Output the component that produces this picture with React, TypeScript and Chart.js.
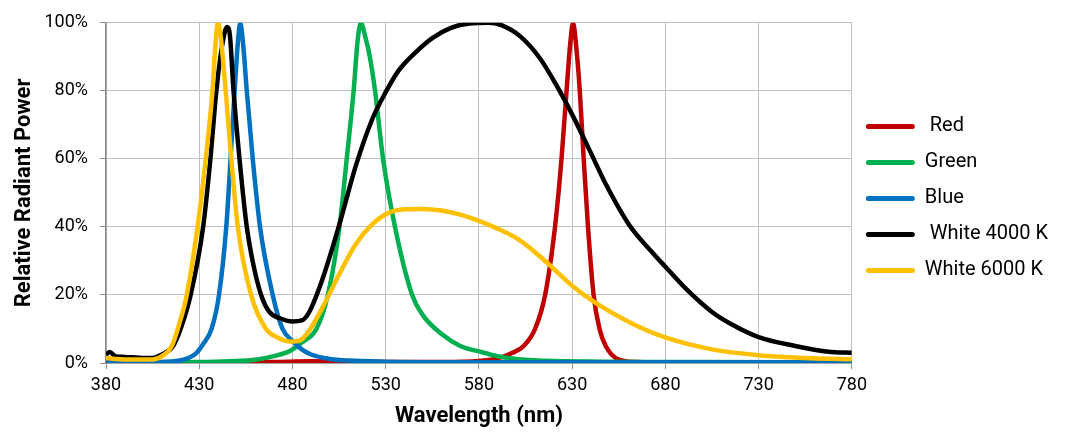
import { useEffect, useRef } from 'react';
import { Chart, registerables } from 'chart.js';

Chart.register(...registerables);

// Axis ticks
const xTicks = [380, 430, 480, 530, 580, 630, 680, 730, 780];
const yTicks = [0, 20, 40, 60, 80, 100];

// Series labels and colours
const seriesLabels = [' Red', 'Green', 'Blue', ' White 4000 K', 'White 6000 K'];
const seriesColors = ['#C00000', '#00B050', '#0070C0', '#000000', '#FFC000'];

// Red LED
const redNm = [380, 470, 490, 520, 560, 580, 591, 598, 604, 610.1, 615.5, 620.8, 624.3, 627, 629, 630.5, 632, 634.1, 636.2, 638.5, 641.5, 644.7, 648, 655, 665, 680, 780];
const redPct = [0, 0.3, 0.5, 0.3, 0.3, 0.6, 1.5, 3, 5, 10, 20, 40, 60, 80, 94, 100, 94, 80, 60, 40, 20, 10, 5, 1, 0.3, 0.2, 0.2];

// Green LED
const greenNm = [380, 430, 461, 470, 478.6, 485, 492.8, 499, 505.2, 509.1, 512.8, 515, 516.7, 519, 521.5, 524.3, 528.6, 535, 544.2, 550, 560, 570, 580, 590, 600, 620, 700, 780];
const greenPct = [0.2, 0.3, 1, 2, 3.5, 6, 10, 20, 40, 60, 80, 95, 100, 96, 90, 80, 60, 40, 20, 14, 8.5, 5, 3.4, 2, 1.2, 0.6, 0.3, 0.2];

// Blue LED
const blueNm = [380, 400, 410, 421.5, 428.6, 432, 436.6, 440.6, 444.5, 446.8, 449, 450.7, 452, 453.5, 455.5, 458.7, 462.6, 469.4, 474.7, 480, 485, 490, 500, 510, 530, 600, 780];
const bluePct = [0.2, 0.2, 0.3, 1, 3, 5.5, 10, 20, 40, 60, 80, 94, 100, 94, 80, 60, 40, 20, 10, 6.5, 4, 2.5, 1.2, 0.7, 0.4, 0.2, 0.2];

// White 4000 K
const w4000Nm = [380, 382, 385, 390, 400, 405, 410, 416, 420, 425.4, 432.1, 436, 439.2, 442.5, 444.9, 446.5, 448.4, 451.6, 455.5, 459, 463.2, 467.6, 474, 480, 485, 489, 496.3, 505.2, 514, 522.9, 530, 537, 546.8, 555, 565, 575, 585, 592, 602.2, 612.8, 621.7, 630.5, 639.4, 648.3, 660.7, 673, 680, 690.7, 705, 715.7, 730, 749.6, 767.5, 780];
const w4000Pct = [2.5, 3.2, 2, 1.8, 1.5, 1.5, 2.5, 5, 10, 20, 40, 60, 80, 94, 98.8, 96, 80, 60, 40, 29, 20, 15, 13, 12.2, 12.5, 15, 25, 40.8, 58, 71.8, 79.6, 86, 91.7, 95.5, 98.5, 99.8, 100, 99.3, 96, 89.5, 81.5, 72.5, 62.5, 52.3, 40.5, 32.5, 28.3, 22, 15, 11.3, 7.6, 5, 3.3, 3];

// White 6000 K
const w6000Nm = [380, 385, 395, 405, 410, 415.3, 419, 423.3, 429.1, 433.5, 437.1, 439, 440.1, 441.5, 444.2, 447.2, 450.7, 457.8, 465.8, 472, 478.6, 483.9, 489.2, 496.3, 505.2, 514, 522.9, 531.8, 540, 550, 560, 570, 580, 590, 602.2, 615.5, 630.5, 643, 660.7, 680, 705, 730, 758, 780];
const w6000Pct = [1.5, 1.2, 1, 1, 2, 5, 11, 20, 40, 60, 80, 96, 100, 96, 80, 60, 40, 20, 10, 7.5, 6.3, 6.6, 9.7, 16.5, 26.2, 35, 40.8, 44.2, 45.2, 45.3, 44.8, 43.6, 41.8, 39.5, 36, 30, 22.5, 17.5, 12, 7.5, 4, 2.3, 1.4, 1.1];

const FONT = 'Roboto';

export default function App() {
  const ref = useRef<HTMLCanvasElement>(null);

  useEffect(() => {
    const nms = [redNm, greenNm, blueNm, w4000Nm, w6000Nm];
    const vals = [redPct, greenPct, bluePct, w4000Pct, w6000Pct];
    const chart = new Chart(ref.current as HTMLCanvasElement, {
      type: 'line',
      data: {
        datasets: seriesLabels.map((label, i) => ({
          label,
          data: nms[i].map((x, j) => ({ x, y: vals[i][j] })),
          borderColor: seriesColors[i],
          backgroundColor: seriesColors[i],
          borderWidth: 4.5,
          pointRadius: 0,
          fill: false,
          cubicInterpolationMode: 'monotone',
          order: seriesLabels.length - 1 - i,
        })),
      },
      options: {
        animation: false,
        responsive: false,
        maintainAspectRatio: false,
        layout: { padding: { left: 0, top: 21, right: 9, bottom: 0 } },
        plugins: {
          tooltip: { enabled: false },
          legend: {
            position: 'right',
            fullSize: false,
            align: 'center',
            title: { display: true, text: '', padding: 0, font: { size: 10, lineHeight: '13px' } },
            labels: {
              boxWidth: 49,
              boxHeight: 5,
              padding: 14,
              color: '#000',
              font: { family: FONT, size: 20, lineHeight: '22px' },
              generateLabels: (c: any) =>
                c.data.datasets.map((ds: any, i: number) => ({
                  text: [ds.label],
                  fillStyle: seriesColors[i],
                  strokeStyle: seriesColors[i],
                  lineWidth: 0,
                  hidden: false,
                  datasetIndex: i,
                  borderRadius: 2.5,
                  fontColor: '#000',
                })),
            },
          },
        },
        scales: {
          x: {
            type: 'linear',
            min: 380,
            max: 780,
            afterBuildTicks: (s: any) => {
              s.ticks = xTicks.map((v) => ({ value: v }));
            },
            afterFit: (s: any) => {
              s.height = 79;
            },
            grid: { color: '#C0C0C0', lineWidth: 1, tickLength: 6, tickColor: '#8C8C8C', drawTicks: true },
            border: { color: '#8C8C8C', width: 1.5 },
            ticks: { font: { family: FONT, size: 18 }, color: '#000', padding: 6, maxRotation: 0, autoSkip: false },
            title: {
              display: true,
              text: 'Wavelength (nm)',
              color: '#000',
              font: { family: FONT, size: 22, weight: 'bold' },
              padding: { top: 0, bottom: 12 },
            },
          },
          y: {
            type: 'linear',
            min: 0,
            max: 100,
            afterBuildTicks: (s: any) => {
              s.ticks = yTicks.map((v) => ({ value: v }));
            },
            afterFit: (s: any) => {
              s.width = 106;
            },
            grid: { color: '#C0C0C0', lineWidth: 1, tickLength: 6, tickColor: '#8C8C8C', drawTicks: true },
            border: { color: '#8C8C8C', width: 1.5 },
            ticks: {
              font: { family: FONT, size: 18 },
              color: '#000',
              padding: 12,
              callback: (v: any) => v + '%',
            },
            title: {
              display: true,
              text: 'Relative Radiant Power',
              color: '#000',
              font: { family: FONT, size: 22, weight: 'bold' },
              padding: { top: 11, bottom: 0 },
            },
          },
        },
      } as any,
    });
    return () => chart.destroy();
  }, []);

  return (
    <div style={{ position: 'fixed', left: 0, top: 0, width: 1067, height: 442, background: '#fff' }}>
      <canvas ref={ref} width={1067} height={442} style={{ width: 1067, height: 442, display: 'block' }} />
    </div>
  );
}
